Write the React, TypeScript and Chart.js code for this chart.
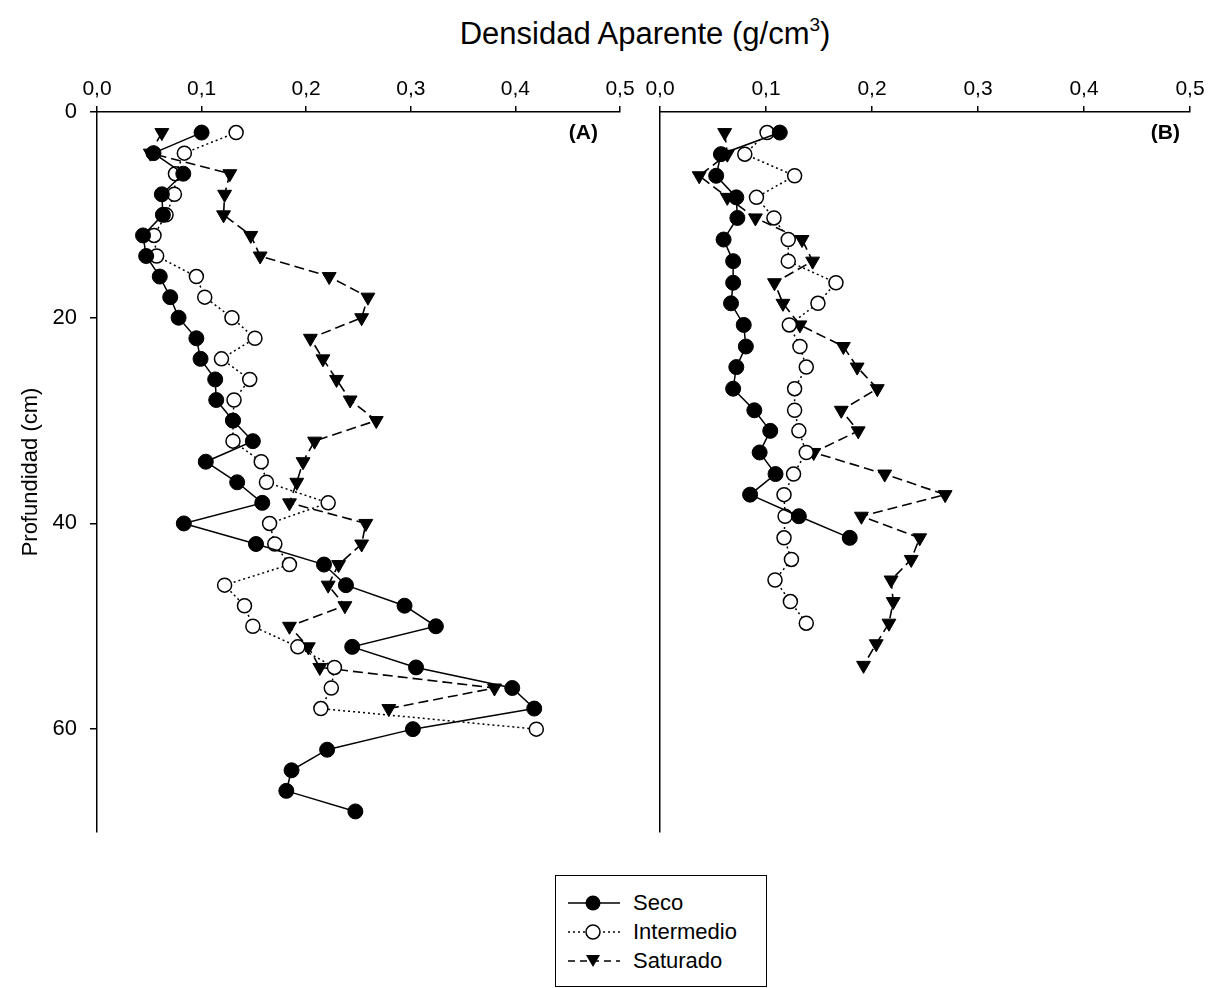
import React, { useEffect, useRef } from "react";
import { Chart, registerables } from "chart.js";

Chart.register(...registerables);

const FAMILY = "'Liberation Sans', Arial, Helvetica, sans-serif";

// ---------- Data ----------
const xTicks = [0, 0.1, 0.2, 0.3, 0.4, 0.5];
const yTicks = [0, 20, 40, 60];

// Panel A depths (cm)
const depthA = [2, 4, 6, 8, 10, 12, 14, 16, 18, 20, 22, 24, 26, 28, 30, 32, 34, 36, 38, 40, 42, 44, 46, 48, 50, 52, 54, 56, 58, 60, 62, 64, 66, 68];
const secoA = [0.100, 0.054, 0.0825, 0.062, 0.063, 0.044, 0.047, 0.060, 0.070, 0.078, 0.095, 0.099, 0.113, 0.114, 0.130, 0.149, 0.104, 0.134, 0.158, 0.083, 0.152, 0.217, 0.238, 0.294, 0.324, 0.244, 0.305, 0.397, 0.418, 0.302, 0.220, 0.186, 0.181, 0.247];
const intermedioA = [0.133, 0.0835, 0.075, 0.074, 0.066, 0.0545, 0.057, 0.095, 0.103, 0.129, 0.151, 0.119, 0.146, 0.131, 0.130, 0.130, 0.157, 0.162, 0.221, 0.165, 0.170, 0.184, 0.122, 0.141, 0.149, 0.192, 0.227, 0.224, 0.214, 0.420];
const saturadoA = [0.062, 0.051, 0.127, 0.122, 0.121, 0.147, 0.156, 0.222, 0.259, 0.253, 0.204, 0.216, 0.229, 0.242, 0.267, 0.208, 0.197, 0.191, 0.184, 0.257, 0.253, 0.231, 0.221, 0.237, 0.184, 0.202, 0.213, 0.380, 0.279];

// Panel B depths (cm)
const depthB = [2.0, 4.1, 6.2, 8.3, 10.3, 12.4, 14.5, 16.6, 18.6, 20.7, 22.8, 24.8, 26.9, 29.0, 31.0, 33.1, 35.2, 37.2, 39.3, 41.4, 43.5, 45.5, 47.6, 49.7, 51.7, 53.8];
const secoB = [0.113, 0.0575, 0.053, 0.072, 0.073, 0.060, 0.069, 0.069, 0.067, 0.079, 0.081, 0.072, 0.069, 0.089, 0.104, 0.094, 0.109, 0.085, 0.131, 0.179];
const intermedioB = [0.101, 0.080, 0.127, 0.091, 0.1075, 0.121, 0.121, 0.166, 0.149, 0.122, 0.132, 0.138, 0.127, 0.127, 0.131, 0.138, 0.126, 0.117, 0.118, 0.117, 0.124, 0.1085, 0.123, 0.138];
const saturadoB = [0.061, 0.0635, 0.037, 0.0635, 0.090, 0.134, 0.144, 0.108, 0.116, 0.132, 0.173, 0.186, 0.205, 0.171, 0.187, 0.145, 0.212, 0.269, 0.190, 0.245, 0.237, 0.218, 0.220, 0.216, 0.204, 0.192];

const seriesNames = ["Seco", "Intermedio", "Saturado"];

// ---------- Helpers ----------
function pts(values: number[], depths: number[]) {
  return values.map((v, i) => ({ x: v, y: depths[i] }));
}

function buildDatasets(depths: number[], seco: number[], inter: number[], sat: number[]) {
  return [
    {
      label: seriesNames[0],
      data: pts(seco, depths),
      showLine: true,
      borderColor: "#000",
      borderWidth: 1.5,
      backgroundColor: "#000",
      pointStyle: "circle",
      pointRadius: 7.5,
      pointBorderWidth: 1,
      pointBorderColor: "#000",
      pointBackgroundColor: "#000",
    },
    {
      label: seriesNames[1],
      data: pts(inter, depths),
      showLine: true,
      borderColor: "#000",
      borderWidth: 1.5,
      borderDash: [2, 3],
      backgroundColor: "#fff",
      pointStyle: "circle",
      pointRadius: 7,
      pointBorderWidth: 1.5,
      pointBorderColor: "#000",
      pointBackgroundColor: "#fff",
    },
    {
      label: seriesNames[2],
      data: pts(sat, depths),
      showLine: true,
      borderColor: "#000",
      borderWidth: 1.6,
      borderDash: [10, 5],
      backgroundColor: "#000",
      pointStyle: "triangle",
      pointRotation: 180,
      pointRadius: 8,
      pointBorderWidth: 1,
      pointBorderColor: "#000",
      pointBackgroundColor: "#000",
    },
  ];
}

const panelLabel = {
  id: "panelLabel",
  afterDraw(chart: any, _args: any, opts: any) {
    if (!opts || !opts.text) return;
    const { ctx, chartArea } = chart;
    ctx.save();
    ctx.font = `bold 21px ${FAMILY}`;
    ctx.fillStyle = "#000";
    ctx.textAlign = "right";
    ctx.textBaseline = "middle";
    ctx.fillText(opts.text, chartArea.right - opts.dx, chartArea.top + 21);
    ctx.restore();
  },
};

function xScale() {
  return {
    type: "linear",
    position: "top",
    min: 0,
    max: 0.5,
    afterBuildTicks: (s: any) => {
      s.ticks = xTicks.map((v) => ({ value: v }));
    },
    afterFit: (s: any) => {
      s.height = 112;
      s.paddingLeft = 0;
      s.paddingRight = 0;
    },
    ticks: {
      callback: (v: any) => Number(v).toFixed(1).replace(".", ","),
      font: { family: FAMILY, size: 21 },
      color: "#000",
      padding: 4,
      maxRotation: 0,
      autoSkip: false,
    },
    grid: {
      drawOnChartArea: false,
      drawTicks: true,
      tickLength: 6,
      color: "#000",
      lineWidth: 1.5,
    },
    border: { display: true, color: "#000", width: 1.5 },
  };
}

function Panel(props: {
  left: number;
  width: number;
  height: number;
  depths: number[];
  seco: number[];
  inter: number[];
  sat: number[];
  showY: boolean;
  yWidth: number;
  padRight: number;
  label: string;
  labelDx: number;
}) {
  const ref = useRef<HTMLCanvasElement | null>(null);
  useEffect(() => {
    if (!ref.current) return;
    const yScale: any = {
      type: "linear",
      position: "left",
      reverse: true,
      min: 0,
      max: 70,
      afterBuildTicks: (s: any) => {
        s.ticks = yTicks.map((v) => ({ value: v }));
      },
      afterFit: (s: any) => {
        s.width = props.yWidth;
        s.paddingTop = 0;
        s.paddingBottom = 0;
      },
      ticks: {
        display: props.showY,
        font: { family: FAMILY, size: 22 },
        color: "#000",
        padding: 13,
      },
      grid: {
        drawOnChartArea: false,
        drawTicks: props.showY,
        tickLength: 7,
        color: "#000",
        lineWidth: 1.5,
      },
      border: { display: true, color: "#000", width: 1.5 },
      title: {
        display: props.showY,
        text: "Profundidad (cm)",
        font: { family: FAMILY, size: 22 },
        color: "#000",
        padding: { top: 18, bottom: 0 },
      },
    };
    const chart = new Chart(ref.current, {
      type: "scatter",
      data: {
        datasets: buildDatasets(props.depths, props.seco, props.inter, props.sat) as any,
      },
      options: {
        animation: false,
        responsive: false,
        maintainAspectRatio: false,
        layout: { padding: { top: 0, left: 0, right: props.padRight, bottom: 20 } },
        plugins: {
          legend: { display: false },
          tooltip: { enabled: false },
          panelLabel: { text: props.label, dx: props.labelDx },
        } as any,
        scales: {
          x: xScale() as any,
          y: yScale,
        },
      },
      plugins: [panelLabel],
    });
    return () => chart.destroy();
  }, []);
  return (
    <canvas
      ref={ref}
      width={props.width}
      height={props.height}
      style={{ position: "absolute", left: props.left, top: 0, width: props.width, height: props.height }}
    />
  );
}

function LegendRow({ kind, text, top }: { kind: number; text: string; top: number }) {
  const dash = kind === 0 ? undefined : kind === 1 ? "2 3" : "7 5";
  let marker: any;
  if (kind === 0) marker = <circle cx={27} cy={12} r={7.5} fill="#000" />;
  else if (kind === 1) marker = <circle cx={27} cy={12} r={7} fill="#fff" stroke="#000" strokeWidth={1.5} />;
  else marker = <polygon points="20,6 34,6 27,18" fill="#000" />;
  return (
    <div style={{ position: "absolute", left: 10, top, height: 24, width: 200 }}>
      <svg width={56} height={24} style={{ position: "absolute", left: 0, top: 0 }}>
        <line x1={2} y1={12} x2={54} y2={12} stroke="#000" strokeWidth={1.5} strokeDasharray={dash} />
        {marker}
      </svg>
      <span
        style={{
          position: "absolute",
          left: 67,
          top: 0,
          lineHeight: "24px",
          fontSize: 22,
          fontFamily: FAMILY,
          color: "#000",
          whiteSpace: "nowrap",
        }}
      >
        {text}
      </span>
    </div>
  );
}

export default function App() {
  return (
    <div
      style={{
        position: "absolute",
        left: 0,
        top: 0,
        width: 1216,
        height: 988,
        background: "#fff",
        overflow: "hidden",
        fontFamily: FAMILY,
      }}
    >
      <div
        style={{
          position: "absolute",
          left: 395,
          top: 14,
          width: 500,
          textAlign: "center",
          fontSize: 31,
          lineHeight: "40px",
          color: "#000",
          whiteSpace: "nowrap",
        }}
      >
        Densidad Aparente (g/cm
        <span style={{ fontSize: 19, position: "relative", top: -13 }}>3</span>)
      </div>
      <Panel
        left={0}
        width={640}
        height={852}
        depths={depthA}
        seco={secoA}
        inter={intermedioA}
        sat={saturadoA}
        showY={true}
        yWidth={97}
        padRight={20}
        label="(A)"
        labelDx={22}
      />
      <Panel
        left={640}
        width={576}
        height={852}
        depths={depthB}
        seco={secoB}
        inter={intermedioB}
        sat={saturadoB}
        showY={false}
        yWidth={20}
        padRight={26}
        label="(B)"
        labelDx={10}
      />
      <div
        style={{
          position: "absolute",
          left: 555,
          top: 875,
          width: 212,
          height: 112,
          border: "1.5px solid #000",
          boxSizing: "border-box",
          background: "#fff",
        }}
      >
        <LegendRow kind={0} text={seriesNames[0]} top={15} />
        <LegendRow kind={1} text={seriesNames[1]} top={44} />
        <LegendRow kind={2} text={seriesNames[2]} top={73} />
      </div>
    </div>
  );
}
